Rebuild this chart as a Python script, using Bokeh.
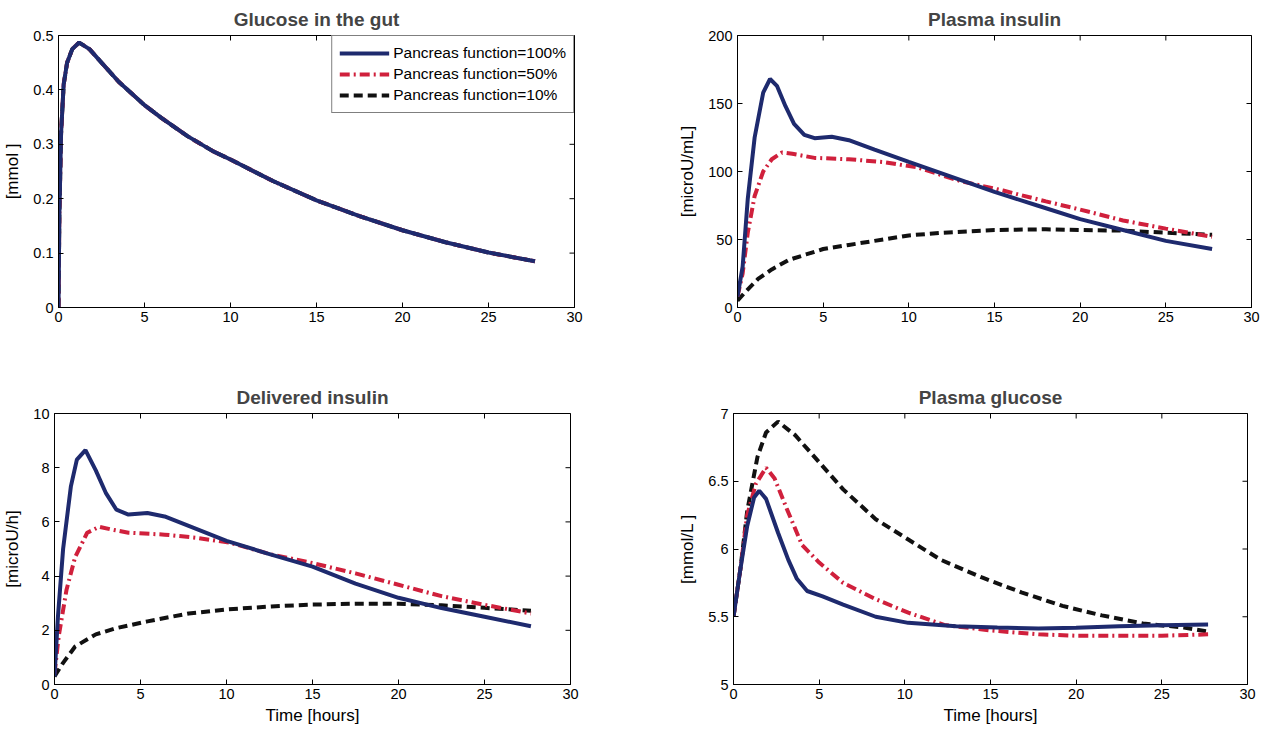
import math
from bokeh.plotting import figure
from bokeh.layouts import row, column
from bokeh.models import FixedTicker, Range1d, Legend, LegendItem
from bokeh.embed import file_html
from bokeh.resources import INLINE

# ---------------- data ----------------
x_ticks = [0, 5, 10, 15, 20, 25, 30]

# Glucose in the gut (identical for all pancreas functions)
t_gut = [0, 0.05, 0.15, 0.3, 0.5, 0.8, 1.2, 1.8, 2.5, 3.5, 5, 6, 7.5, 9, 10, 12.5, 15, 17.5, 20, 22.5, 25, 27.7]
gut_glucose = [0, 0.17, 0.32, 0.41, 0.45, 0.475, 0.487, 0.475, 0.45, 0.415, 0.372, 0.348, 0.315, 0.287, 0.272,
               0.232, 0.197, 0.168, 0.142, 0.12, 0.101, 0.085]

# Plasma insulin
t_pi_100 = [0, 0.3, 0.6, 1.0, 1.5, 1.9, 2.3, 2.8, 3.3, 3.9, 4.5, 5.5, 6.5, 8, 10, 12.5, 15, 17.5, 20, 22.5, 25, 27.7]
pi_100 = [8, 30, 80, 125, 158, 168, 163, 148, 135, 127, 124.5, 125.5, 123, 116, 107, 96, 85, 75, 65, 57, 49, 43]
t_pi_50 = [0, 0.3, 0.6, 1.0, 1.5, 2.0, 2.6, 3.2, 4.5, 6.5, 8.5, 10.5, 13, 15.5, 18, 20, 22.5, 25, 27.7]
pi_50 = [8, 25, 55, 82, 100, 109, 114, 113, 110, 109, 107, 103, 93, 86, 78, 72, 64, 58, 52]
t_pi_10 = [0, 0.5, 1.2, 2, 3, 4, 5, 6.5, 8, 10, 12, 15, 18, 20, 22.5, 25, 27.7]
pi_10 = [5, 12, 21, 28, 35, 39, 43, 46, 49, 53, 55, 57, 57.5, 57, 56.5, 55, 53.5]

# Delivered insulin
t_di_100 = [0, 0.2, 0.5, 0.95, 1.3, 1.8, 2.4, 3.0, 3.6, 4.3, 5.4, 6.4, 7.8, 10, 12.3, 15, 17.5, 20, 22.5, 25, 27.7]
di_100 = [0.3, 2.5, 5.0, 7.3, 8.3, 8.65, 7.9, 7.05, 6.45, 6.27, 6.33, 6.2, 5.85, 5.3, 4.85, 4.35, 3.72, 3.2, 2.82,
          2.5, 2.15]
t_di_50 = [0, 0.25, 0.7, 1.2, 1.9, 2.6, 3.3, 4.3, 6.4, 8.3, 10.2, 12.6, 15, 17.5, 20, 22.5, 25, 27.7]
di_50 = [0.4, 1.8, 3.5, 4.7, 5.6, 5.82, 5.72, 5.6, 5.53, 5.41, 5.23, 4.8, 4.48, 4.1, 3.68, 3.26, 2.94, 2.62]
t_di_10 = [0, 0.5, 1.2, 2.4, 3.6, 5.4, 7.8, 10, 12.6, 15, 17.5, 20, 22.5, 25, 27.7]
di_10 = [0.3, 0.8, 1.4, 1.85, 2.08, 2.33, 2.62, 2.77, 2.88, 2.95, 2.98, 2.98, 2.92, 2.83, 2.72]

# Plasma glucose
t_pg_100 = [0, 0.4, 0.8, 1.2, 1.5, 1.9, 2.6, 3.2, 3.7, 4.3, 5.2, 6.4, 8.3, 10.2, 13, 15.4, 17.8, 20, 22.5, 25, 27.7]
pg_100 = [5.5, 5.85, 6.17, 6.38, 6.43, 6.37, 6.12, 5.92, 5.78, 5.69, 5.65, 5.59, 5.5, 5.455, 5.43, 5.42, 5.413,
          5.418, 5.43, 5.438, 5.443]
t_pg_50 = [0, 0.4, 0.8, 1.3, 1.9, 2.4, 3.1, 4.0, 5.0, 6.4, 8.3, 10.2, 12.3, 14.9, 17.8, 20, 22.5, 25, 27.7]
pg_50 = [5.5, 5.85, 6.25, 6.48, 6.6, 6.52, 6.3, 6.03, 5.9, 5.75, 5.63, 5.53, 5.44, 5.4, 5.37, 5.36, 5.36, 5.36, 5.37]
t_pg_10 = [0, 0.4, 0.8, 1.4, 1.9, 2.6, 3.6, 5, 6.4, 8.3, 10.2, 12.1, 14.5, 16.8, 19.2, 21.5, 23.9, 26.3, 27.7]
pg_10 = [5.5, 5.85, 6.28, 6.68, 6.86, 6.94, 6.84, 6.64, 6.44, 6.22, 6.07, 5.92, 5.79, 5.68, 5.58, 5.51, 5.45, 5.42,
         5.39]

legend_labels = ["Pancreas function=100%", "Pancreas function=50%", "Pancreas function=10%"]

# ---------------- style ----------------
FONT = "Liberation Sans"
BLUE = "#1e2a6e"
RED = "#d0203c"
BLACK = "#111111"
LW = 4.0


def make_fig(title, ylabel, yr, yticks, xlabel, bl, br, bt, bb, fw, fh):
    p = figure(output_backend="svg", toolbar_location=None,
               frame_width=fw, frame_height=fh,
               min_border_left=bl, min_border_right=br, min_border_top=bt, min_border_bottom=bb,
               x_range=Range1d(0, 30), y_range=Range1d(*yr), tools="")
    p.title.text = title
    p.title.text_font = FONT
    p.title.text_font_size = "19px"
    p.title.text_font_style = "bold"
    p.title.align = "center"
    p.title.standoff = 12
    p.xgrid.visible = False
    p.ygrid.visible = False
    p.outline_line_color = "black"
    p.outline_line_width = 1
    p.background_fill_color = "white"
    p.border_fill_color = "white"
    for ax in (p.xaxis[0], p.yaxis[0]):
        ax.major_tick_in = 5
        ax.major_tick_out = 0
        ax.minor_tick_line_color = None
        ax.axis_line_color = "black"
        ax.major_tick_line_color = "black"
        ax.major_label_text_font = FONT
        ax.major_label_text_font_size = "14.5px"
        ax.major_label_text_color = "black"
        ax.axis_label_text_font = FONT
        ax.axis_label_text_font_size = "17px"
        ax.axis_label_text_font_style = "normal"
        ax.axis_label_text_color = "black"
    p.xaxis[0].ticker = FixedTicker(ticks=x_ticks)
    p.yaxis[0].ticker = FixedTicker(ticks=yticks)
    p.xaxis[0].major_label_standoff = 4
    p.yaxis[0].major_label_standoff = 5
    p.yaxis[0].axis_label = ylabel
    p.yaxis[0].axis_label_standoff = 8
    if xlabel:
        p.xaxis[0].axis_label = xlabel
        p.xaxis[0].axis_label_standoff = 4
    # mirrored inward ticks on the top and right edges of the box (clipped to the frame)
    p.scatter(x_ticks, [yr[1]] * len(x_ticks), marker="dash", angle=math.pi / 2, size=10,
              line_color="black", line_width=1)
    p.scatter([30] * len(yticks), yticks, marker="dash", size=10, line_color="black", line_width=1)
    return p


def add_series(p, t10, v10, t50, v50, t100, v100):
    r10 = p.line(t10, v10, line_color=BLACK, line_width=LW, line_dash="9 5")
    r50 = p.line(t50, v50, line_color=RED, line_width=LW, line_dash="10 4 2 4")
    r100 = p.line(t100, v100, line_color=BLUE, line_width=LW)
    return r100, r50, r10


# Layout geometry
LW_L, LW_R = 54, 50
RW_L, RW_R = 113, 12
FW_L, FW_R = 516, 514
T_TOP, T_BOT, T_H = 35, 55, 272
B_TOP, B_BOT, B_H = 51, 46, 271

p1 = make_fig("Glucose in the gut", "[mmol ]", (0, 0.5), [0, 0.1, 0.2, 0.3, 0.4, 0.5], None,
              LW_L, LW_R, T_TOP, T_BOT, FW_L, T_H)
r100, r50, r10 = add_series(p1, t_gut, gut_glucose, t_gut, gut_glucose, t_gut, gut_glucose)
leg = Legend(items=[LegendItem(label=legend_labels[0], renderers=[r100]),
                    LegendItem(label=legend_labels[1], renderers=[r50]),
                    LegendItem(label=legend_labels[2], renderers=[r10])],
             location="top_right", margin=0, padding=7, spacing=1,
             glyph_width=50, glyph_height=20, label_height=20, label_standoff=4,
             label_text_font=FONT, label_text_font_size="15.5px", label_text_color="black",
             border_line_color="black", border_line_width=1, background_fill_color="white",
             background_fill_alpha=1.0)
p1.add_layout(leg, "center")

p2 = make_fig("Plasma insulin", "[microU/mL]", (0, 200), [0, 50, 100, 150, 200], None,
              RW_L, RW_R, T_TOP, T_BOT, FW_R, T_H)
add_series(p2, t_pi_10, pi_10, t_pi_50, pi_50, t_pi_100, pi_100)

p3 = make_fig("Delivered insulin", "[microU/h]", (0, 10), [0, 2, 4, 6, 8, 10], "Time [hours]",
              LW_L, LW_R, B_TOP, B_BOT, FW_L, B_H)
add_series(p3, t_di_10, di_10, t_di_50, di_50, t_di_100, di_100)

p4 = make_fig("Plasma glucose", "[mmol/L ]", (5, 7), [5, 5.5, 6, 6.5, 7], "Time [hours]",
              RW_L, RW_R, B_TOP, B_BOT, FW_R, B_H)
add_series(p4, t_pg_10, pg_10, t_pg_50, pg_50, t_pg_100, pg_100)

layout = column(row(p1, p2, spacing=0), row(p3, p4, spacing=0), spacing=0)

open("out.html", "w").write(file_html(layout, INLINE))
